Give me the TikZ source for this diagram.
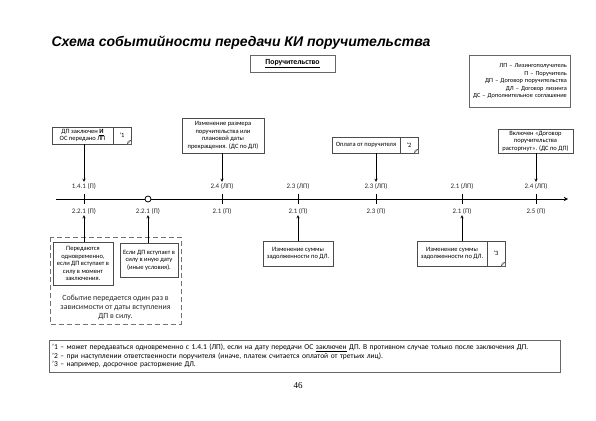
\documentclass[tikz,border=0pt]{standalone}
\usepackage{fontspec}
\setmainfont{Carlito}
\newfontfamily\titlefont{Liberation Sans}
\newfontfamily\pagefont{Liberation Serif}
\usetikzlibrary{positioning}
\tikzset{
  box/.style={draw=black!70, fill=white, align=center, inner sep=1pt,
    font=\fontsize{6.5}{7.5}\selectfont},
  notebox/.style={box, minimum width=18pt},
  tick/.style={font=\fontsize{6.9}{8}\selectfont, text=black!85, inner sep=1pt}
}
\begin{document}
\begin{tikzpicture}[>=stealth, x=1pt, y=-1pt]
\useasboundingbox (0,0) rectangle (596,420);

\node[anchor=base west, font=\titlefont\bfseries\itshape\fontsize{14}{16}\selectfont] (title) at (48,47) {Схема событийности передачи КИ поручительства};
\node[draw=black!60, minimum width=85pt, minimum height=17pt, font=\bfseries\fontsize{7.8}{9}\selectfont] (head) at (292.5,63.5) {\underline{Поручительство}};
\node[draw=black!60, anchor=north east, text width=95pt, minimum height=52pt, inner sep=3pt, align=right, font=\fontsize{6.3}{7.4}\selectfont] (legend) at (570,55) {ЛП – Лизингополучатель\\П – Поручитель\\ДП – Договор поручительства\\ДЛ – Договор лизинга\\ДС – Дополнительное соглашение};

% time axis
\coordinate (t0) at (56,199);
\coordinate (t1) at (568,199);
\draw[->, line width=0.9pt] (t0) -- (t1);
\foreach \x/\n/\a/\b in {84/1/1.4.1 (П)/2.2.1 (П), 222/3/2.4 (ЛП)/2.1 (П), 298/4/2.3 (ЛП)/2.1 (П), 376/5/2.3 (ЛП)/2.3 (П), 462/6/2.1 (ЛП)/2.1 (П), 536/7/2.4 (ЛП)/2.5 (П)}{
  \draw[line width=0.9pt] (\x,194) -- (\x,204);
  \node[tick] (up\n) at (\x,186) {\a};
  \node[tick] (dn\n) at (\x,211) {\b};
}
\draw[line width=0.8pt, fill=white] (148,199) circle (3pt);
\node[tick] (dn2) at (148,211) {2.2.1 (П)};

% events above
\node[box, minimum width=61pt, minimum height=17pt] (b1) at (82.5,135.5) {ДП заключен \textbf{\underline{И}}\\ОС передано ЛП};
\node[notebox, minimum height=17pt, right=-0.4pt of b1] (n1) {'1};
\node[box, minimum width=82pt, minimum height=35pt] (b2) at (223,135.5) {Изменение размера\\поручительства или\\плановой даты\\прекращения. (ДС по ДЛ)};
\node[box, minimum width=68pt, minimum height=16pt] (b3) at (366,145) {Оплата от поручителя};
\node[notebox, minimum height=16pt, right=-0.4pt of b3] (n3) {'2};
\node[box, minimum width=75pt, minimum height=24pt] (b4) at (535.5,141) {Включен «Договор\\поручительства\\расторгнут». (ДС по ДП)};

\draw[->] (up1.north |- b1.south) -- (up1.north);
\draw[->] (up3.north |- b2.south) -- (up3.north);
\draw[->] (up5.north |- b3.south) -- (up5.north);
\draw[->] (up7.north |- b4.south) -- (up7.north);

% events below
\draw[black!55, line width=1pt, dash pattern=on 5pt off 3pt] (50,237) rectangle (181,324);
\node[box, minimum width=60pt, minimum height=43pt] (c1) at (83,263.5) {Передаются\\одновременно,\\если ДП вступает в\\силу в момент\\заключения.};
\node[box, minimum width=58pt, minimum height=34pt] (c2) at (149,260) {Если ДП вступает в\\силу в иную дату\\(иные условия).};
\node[align=center, font=\fontsize{7.9}{9}\selectfont, text=black!85] (once) at (115.5,307) {Событие передается один раз в\\зависимости от даты вступления\\ДП в силу.};
\node[box, minimum width=70pt, minimum height=25pt] (c3) at (298,253.5) {Изменение суммы\\задолженности по ДЛ.};
\node[box, minimum width=70pt, minimum height=25pt] (c4) at (452,253.5) {Изменение суммы\\задолженности по ДЛ.};
\node[notebox, minimum height=25pt, right=-0.4pt of c4] (n4) {'3};

\draw[->] (dn1.south |- c1.north) -- (dn1.south);
\draw[->] (dn2.south |- c2.north) -- (dn2.south);
\draw[->] (dn4.south |- c3.north) -- (dn4.south);
\draw[->] (dn6.south |- c4.north) -- (dn6.south);

% folded corners
\fill[white] (n1.south east) -- ++(-4,0) -- ++(4,-4) -- cycle;
\draw[black!70] (n1.south east) ++(-4,0) -- ++(4,-4) (n1.south east) ++(-4,0) -- ++(1,-3) -- ++(3,-1);
\fill[white] (n3.south east) -- ++(-4,0) -- ++(4,-4) -- cycle;
\draw[black!70] (n3.south east) ++(-4,0) -- ++(4,-4) (n3.south east) ++(-4,0) -- ++(1,-3) -- ++(3,-1);
\fill[white] (n4.south east) -- ++(-4,0) -- ++(4,-4) -- cycle;
\draw[black!70] (n4.south east) ++(-4,0) -- ++(4,-4) (n4.south east) ++(-4,0) -- ++(1,-3) -- ++(3,-1);

% notes
\node[draw=black!60, anchor=north west, text width=505pt, minimum height=32pt, inner sep=3pt, align=left, font=\fontsize{7.5}{8.6}\selectfont] (notes) at (49,340) {'1 – может передаваться одновременно с 1.4.1 (ЛП), если на дату передачи ОС \underline{заключен} ДП. В противном случае только после заключения ДП.\\'2 – при наступлении ответственности поручителя (иначе, платеж считается оплатой от третьих лиц).\\'3 – например, досрочное расторжение ДЛ.};
\node[font=\pagefont\fontsize{9}{10}\selectfont] (page) at (298,386) {46};

\end{tikzpicture}
\end{document}
